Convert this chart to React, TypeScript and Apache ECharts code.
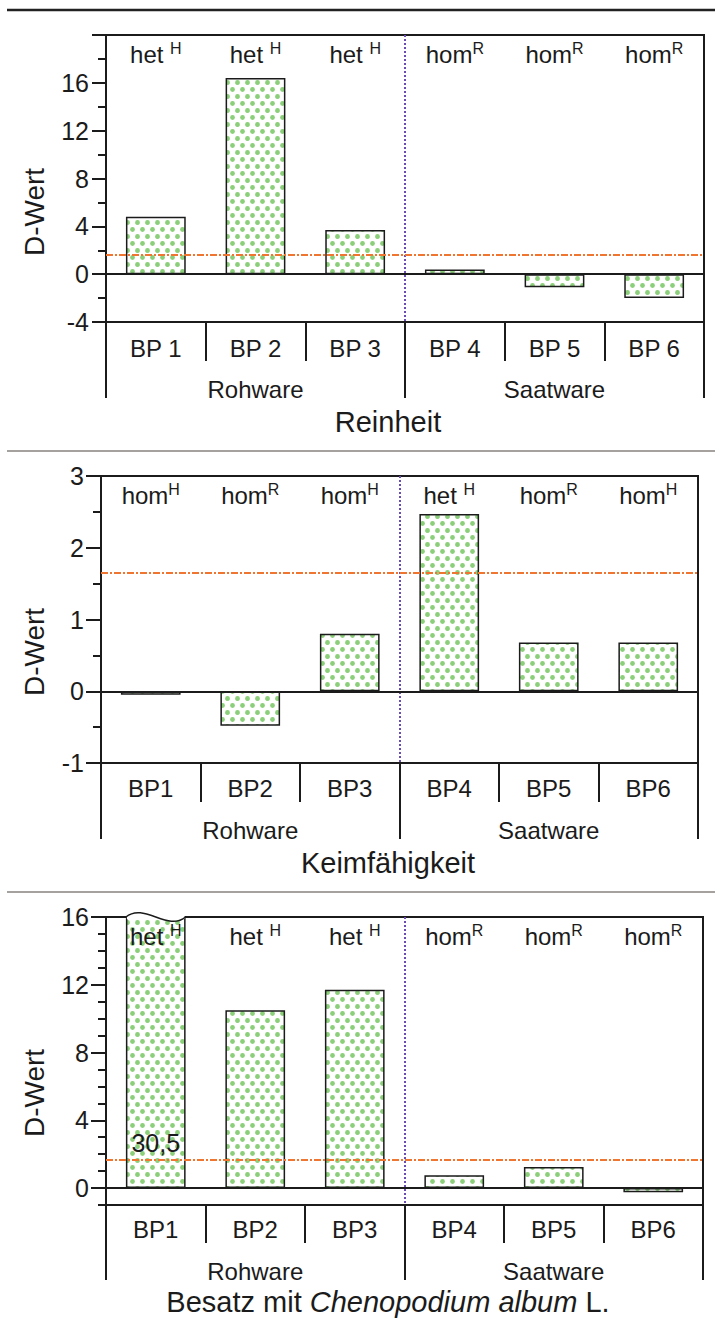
import React, { useEffect, useRef } from 'react';
import * as echarts from 'echarts';

const FONT = '"Liberation Sans", Arial, Helvetica, sans-serif';
const INK = '#1b1b1b';
const DOT = '#8ccf7a';
const ORANGE = '#ee7630';
const PURPLE = '#6a4cb0';

const categoriesSpaced = ['BP 1', 'BP 2', 'BP 3', 'BP 4', 'BP 5', 'BP 6'];
const categoriesPlain = ['BP1', 'BP2', 'BP3', 'BP4', 'BP5', 'BP6'];
const groups = ['Rohware', 'Saatware'];

const reinheitValues = [4.8, 16.4, 3.7, 0.4, -1.1, -2.0];
const keimValues = [-0.05, -0.48, 0.8, 2.47, 0.68, 0.68];
const besatzValues = [30.5, 10.5, 11.7, 0.75, 1.25, -0.25];
const besatzBrokenLabel = '30,5';

const reinheitBase = ['het', 'het', 'het', 'hom', 'hom', 'hom'];
const reinheitSup = ['H', 'H', 'H', 'R', 'R', 'R'];
const keimBase = ['hom', 'hom', 'hom', 'het', 'hom', 'hom'];
const keimSup = ['H', 'R', 'H', 'H', 'R', 'H'];
const besatzBase = ['het', 'het', 'het', 'hom', 'hom', 'hom'];
const besatzSup = ['H', 'H', 'H', 'R', 'R', 'R'];

const thresholds = [1.6, 1.65, 1.7];

const reinheitAxis = { min: -4, max: 20, interval: 4, minorSplit: 2 };
const keimAxis = { min: -1, max: 3, interval: 1, minorSplit: 2 };
const besatzAxis = { min: -1, max: 16, interval: 1 };
const besatzMajorAxis = { min: 0, max: 16, interval: 4 };

const titles = ['Reinheit', 'Keimfähigkeit'];

export default function App() {
  const ref = useRef<HTMLDivElement>(null);

  useEffect(() => {
    if (!ref.current) return;
    const chart = echarts.init(ref.current, undefined, { renderer: 'svg' });

    const c = document.createElement('canvas');
    c.width = 10;
    c.height = 14;
    const ctx = c.getContext('2d')!;
    ctx.fillStyle = '#ffffff';
    ctx.fillRect(0, 0, 10, 14);
    ctx.fillStyle = DOT;
    ctx.beginPath();
    ctx.arc(2.5, 5.5, 2.4, 0, Math.PI * 2);
    ctx.fill();
    ctx.beginPath();
    ctx.arc(7.5, 12.5, 2.4, 0, Math.PI * 2);
    ctx.fill();
    ctx.beginPath();
    ctx.arc(7.5, -1.5, 2.4, 0, Math.PI * 2);
    ctx.fill();
    const pattern: any = { image: c, repeat: 'repeat' };

    const panels = [
      {
        values: reinheitValues, cats: categoriesSpaced, base: reinheitBase, sup: reinheitSup,
        thr: thresholds[0],
        grid: { left: 106, top: 35, width: 598, height: 287 },
        catMargin: 14, groupMargin: 55, catTick: 39, groupTick: 76,
      },
      {
        values: keimValues, cats: categoriesPlain, base: keimBase, sup: keimSup,
        thr: thresholds[1],
        grid: { left: 101, top: 476, width: 597, height: 287 },
        catMargin: 13, groupMargin: 55, catTick: 39, groupTick: 76,
      },
      {
        values: besatzValues, cats: categoriesPlain, base: besatzBase, sup: besatzSup,
        thr: thresholds[2],
        grid: { left: 106, top: 917, width: 597, height: 288 },
        catMargin: 12, groupMargin: 54, catTick: 38, groupTick: 75,
      },
    ];

    const grids: any[] = panels.map((p) => ({
      ...p.grid,
      show: true,
      borderColor: INK,
      borderWidth: 2,
      backgroundColor: 'transparent',
    }));
    const g3 = panels[2].grid;
    const unit3 = g3.height / (besatzAxis.max - besatzAxis.min);
    grids.push({
      left: g3.left, top: g3.top, width: g3.width,
      height: unit3 * (besatzMajorAxis.max - besatzMajorAxis.min),
      show: false,
    });

    const labelFont = { fontFamily: FONT, color: INK };
    const xAxes: any[] = [];
    panels.forEach((p, i) => {
      xAxes.push({
        gridIndex: i, type: 'category', data: p.cats, position: 'bottom',
        axisLine: { show: true, onZero: false, lineStyle: { color: INK, width: 2 } },
        axisTick: { show: true, interval: 0, length: p.catTick, lineStyle: { color: INK, width: 2 } },
        axisLabel: { interval: 0, margin: p.catMargin, fontSize: 24, lineHeight: 24, ...labelFont },
        splitLine: { show: false },
      });
      xAxes.push({
        gridIndex: i, type: 'category', data: groups, position: 'bottom',
        axisLine: { show: false, onZero: false },
        axisTick: { show: true, interval: 0, length: p.groupTick, lineStyle: { color: INK, width: 2 } },
        axisLabel: { interval: 0, margin: p.groupMargin, fontSize: 24, lineHeight: 24, ...labelFont },
        splitLine: {
          show: true, showMinLine: false, showMaxLine: false,
          lineStyle: { color: PURPLE, width: 2, type: [2, 2] },
        },
      });
      xAxes.push({
        gridIndex: i, type: 'category', data: p.cats, position: 'top',
        z: 10,
        axisLine: { show: false, onZero: false },
        axisTick: { show: false },
        splitLine: { show: false },
        axisLabel: {
          inside: true, interval: 0, margin: 5,
          formatter: (_v: string, idx: number) =>
            `{m|${p.base[idx]}${p.base[idx] === 'het' ? ' ' : ''}}{s|${p.sup[idx]}}`,
          rich: {
            m: { fontSize: 24, lineHeight: 26, verticalAlign: 'bottom', ...labelFont },
            s: { fontSize: 16, lineHeight: 16, verticalAlign: 'top', ...labelFont },
          },
        },
      });
    });
    xAxes.push({ gridIndex: 3, type: 'category', data: categoriesPlain, show: false });

    const tickStyle = { color: INK, width: 2 };
    const yLabel = { fontSize: 25, margin: 17, ...labelFont };
    const yAxes: any[] = [
      {
        gridIndex: 0, type: 'value', min: reinheitAxis.min, max: reinheitAxis.max, interval: reinheitAxis.interval,
        axisLine: { show: true, onZero: false, lineStyle: tickStyle },
        axisTick: { show: true, length: 14, lineStyle: tickStyle },
        minorTick: { show: true, splitNumber: reinheitAxis.minorSplit, length: 8, lineStyle: tickStyle },
        axisLabel: { ...yLabel, showMaxLabel: false },
        splitLine: { show: false },
      },
      {
        gridIndex: 1, type: 'value', min: keimAxis.min, max: keimAxis.max, interval: keimAxis.interval,
        axisLine: { show: true, onZero: false, lineStyle: tickStyle },
        axisTick: { show: true, length: 15, lineStyle: tickStyle },
        minorTick: { show: true, splitNumber: keimAxis.minorSplit, length: 8, lineStyle: tickStyle },
        axisLabel: { ...yLabel },
        splitLine: { show: false },
      },
      {
        gridIndex: 2, type: 'value', min: besatzAxis.min, max: besatzAxis.max, interval: besatzAxis.interval,
        axisLine: { show: true, onZero: false, lineStyle: tickStyle },
        axisTick: { show: true, length: 8, lineStyle: tickStyle },
        axisLabel: { show: false },
        splitLine: { show: false },
      },
      {
        gridIndex: 3, type: 'value', min: besatzMajorAxis.min, max: besatzMajorAxis.max, interval: besatzMajorAxis.interval,
        axisLine: { show: false, onZero: false },
        axisTick: { show: true, length: 15, lineStyle: tickStyle },
        axisLabel: { ...yLabel },
        splitLine: { show: false },
      },
    ];

    const series: any[] = panels.map((p, i) => ({
      type: 'bar',
      xAxisIndex: i * 3,
      yAxisIndex: i,
      barWidth: '60%',
      itemStyle: { color: pattern, borderColor: INK, borderWidth: 1.5 },
      data: p.values.map((v, k) =>
        i === 2 && k === 0
          ? {
              value: v,
              label: {
                show: true, position: 'insideBottom', distance: 33,
                formatter: besatzBrokenLabel, fontSize: 25, ...labelFont,
              },
            }
          : v
      ),
      markLine: {
        silent: true,
        symbol: ['none', 'none'],
        label: { show: false },
        data: [
          { yAxis: 0, lineStyle: { color: INK, width: 2.2, type: 'solid' } },
          { yAxis: p.thr, lineStyle: { color: ORANGE, width: 2, type: [7, 2, 2, 2] } },
        ],
      },
    }));

    series.push({
      type: 'custom',
      xAxisIndex: 6,
      yAxisIndex: 2,
      clip: false,
      z: 5,
      data: [[0, besatzAxis.max]],
      renderItem: (_params: any, api: any) => {
        const pt = api.coord([api.value(0), api.value(1)]);
        const w = api.size([1, 0])[0] * 0.6;
        const l = pt[0] - w / 2;
        const r = pt[0] + w / 2;
        const y = pt[1];
        return {
          type: 'group',
          children: [
            { type: 'rect', shape: { x: l + 1, y: y - 2, width: w - 2, height: 4 }, style: { fill: '#ffffff' } },
            {
              type: 'bezierCurve',
              shape: { x1: l, y1: y, cpx1: l + w * 0.3, cpy1: y - 15, cpx2: r - w * 0.3, cpy2: y + 15, x2: r, y2: y },
              style: { fill: 'none', stroke: INK, lineWidth: 1.5 },
            },
          ],
        };
      },
    });

    const nameYs = [212, 652, 1093];
    const titleYs = [422, 863, 1302];
    const graphic: any[] = [
      { type: 'line', shape: { x1: 7, y1: 10, x2: 715, y2: 10 }, style: { stroke: '#222', lineWidth: 2.5 } },
      { type: 'line', shape: { x1: 7, y1: 451, x2: 715, y2: 451 }, style: { stroke: '#4d4540', lineWidth: 1.2 } },
      { type: 'line', shape: { x1: 7, y1: 892, x2: 715, y2: 892 }, style: { stroke: '#4d4540', lineWidth: 1.2 } },
    ];
    nameYs.forEach((y) => {
      graphic.push({
        type: 'text', x: 34, y, rotation: Math.PI / 2,
        style: { text: 'D-Wert', fontSize: 28, fontFamily: FONT, fill: INK, textAlign: 'center', textVerticalAlign: 'middle' },
      });
    });
    titles.forEach((t, i) => {
      graphic.push({
        type: 'text', x: 388, y: titleYs[i],
        style: { text: t, fontSize: 29, fontFamily: FONT, fill: INK, textAlign: 'center', textVerticalAlign: 'middle' },
      });
    });
    graphic.push({
      type: 'text', x: 388, y: titleYs[2],
      style: {
        text: '{n|Besatz mit }{i|Chenopodium album}{n| L.}',
        textAlign: 'center', textVerticalAlign: 'middle',
        rich: {
          n: { fontSize: 29, fontFamily: FONT, fill: INK },
          i: { fontSize: 29, fontFamily: FONT, fill: INK, fontStyle: 'italic' },
        },
      },
    });

    chart.setOption({
      animation: false,
      backgroundColor: '#ffffff',
      grid: grids,
      xAxis: xAxes,
      yAxis: yAxes,
      series,
      graphic,
    });

    return () => chart.dispose();
  }, []);

  return (
    <div
      ref={ref}
      style={{ position: 'absolute', left: 0, top: 0, width: 715, height: 1320, background: '#fff' }}
    />
  );
}
